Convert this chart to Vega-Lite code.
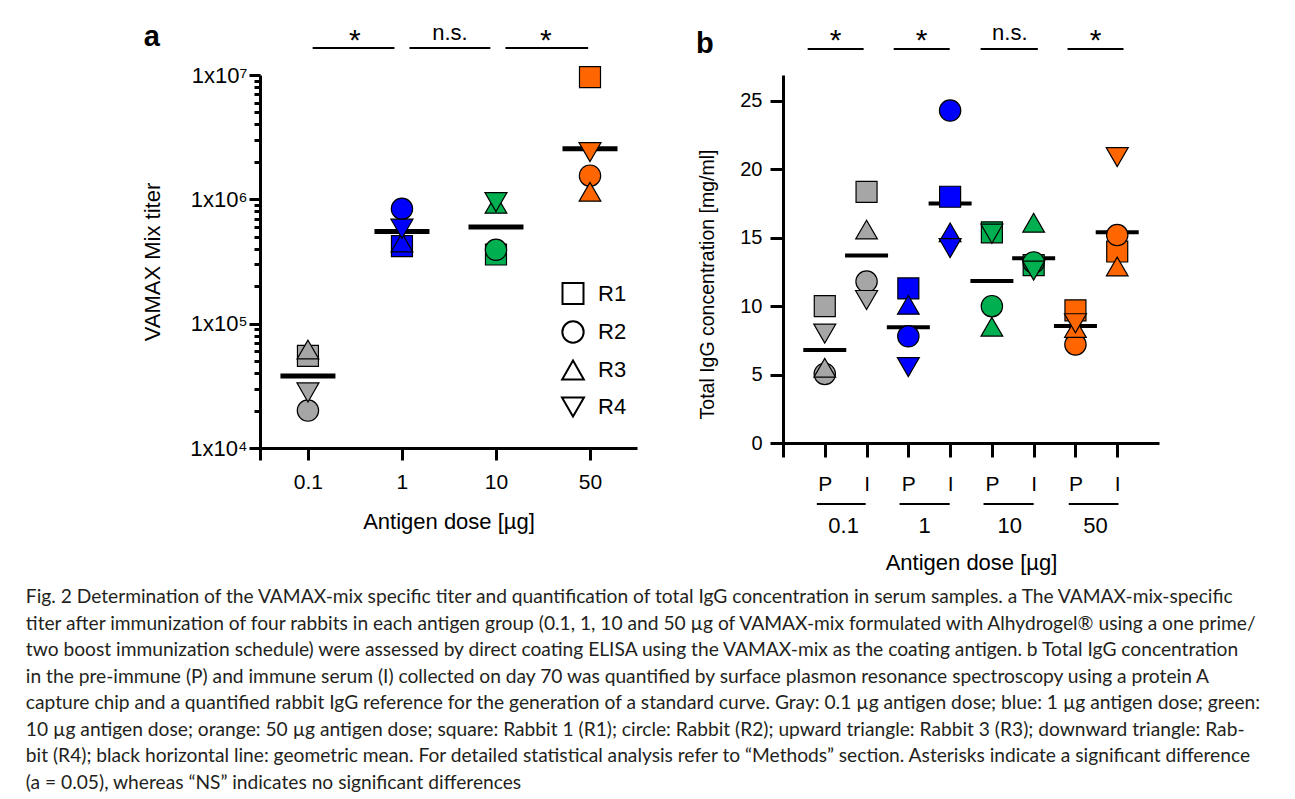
{
  "$schema": "https://vega.github.io/schema/vega-lite/v6.json",
  "background": "white",
  "padding": {"left": 25, "top": 21, "right": 5, "bottom": 5},
  "title": {
    "text": [
      "Fig. 2  Determination of the VAMAX-mix specific titer and quantification of total IgG concentration in serum samples. a The VAMAX-mix-specific",
      "titer after immunization of four rabbits in each antigen group (0.1, 1, 10 and 50 µg of VAMAX-mix formulated with Alhydrogel® using a one prime/",
      "two boost immunization schedule) were assessed by direct coating ELISA using the VAMAX-mix as the coating antigen. b Total IgG concentration",
      "in the pre-immune (P) and immune serum (I) collected on day 70 was quantified by surface plasmon resonance spectroscopy using a protein A",
      "capture chip and a quantified rabbit IgG reference for the generation of a standard curve. Gray: 0.1 µg antigen dose; blue: 1 µg antigen dose; green:",
      "10 µg antigen dose; orange: 50 µg antigen dose; square: Rabbit 1 (R1); circle: Rabbit (R2); upward triangle: Rabbit 3 (R3); downward triangle: Rab-",
      "bit (R4); black horizontal line: geometric mean. For detailed statistical analysis refer to “Methods” section. Asterisks indicate a significant difference",
      "(a = 0.05), whereas “NS” indicates no significant differences"
    ],
    "orient": "bottom",
    "anchor": "start",
    "frame": "bounds",
    "font": "Lato",
    "fontSize": 19.2,
    "fontWeight": "normal",
    "color": "#231f20",
    "lineHeight": 26.5,
    "dx": -116,
    "offset": 15,
    "baseline": "top"
  },
  "datasets": {
    "titer": [
      {"dose": "0.1", "idx": 0, "rabbit": "R1", "value": 55000},
      {"dose": "0.1", "idx": 0, "rabbit": "R2", "value": 20000},
      {"dose": "0.1", "idx": 0, "rabbit": "R3", "value": 62000},
      {"dose": "0.1", "idx": 0, "rabbit": "R4", "value": 28000},
      {"dose": "1", "idx": 1, "rabbit": "R1", "value": 420000},
      {"dose": "1", "idx": 1, "rabbit": "R2", "value": 840000},
      {"dose": "1", "idx": 1, "rabbit": "R3", "value": 450000},
      {"dose": "1", "idx": 1, "rabbit": "R4", "value": 580000},
      {"dose": "10", "idx": 2, "rabbit": "R1", "value": 360000},
      {"dose": "10", "idx": 2, "rabbit": "R2", "value": 393000},
      {"dose": "10", "idx": 2, "rabbit": "R3", "value": 920000},
      {"dose": "10", "idx": 2, "rabbit": "R4", "value": 950000},
      {"dose": "50", "idx": 3, "rabbit": "R1", "value": 9600000},
      {"dose": "50", "idx": 3, "rabbit": "R2", "value": 1550000},
      {"dose": "50", "idx": 3, "rabbit": "R3", "value": 1150000},
      {"dose": "50", "idx": 3, "rabbit": "R4", "value": 2400000}
    ],
    "titerMean": [
      {"dose": "0.1", "idx": 0, "value": 38000},
      {"dose": "1", "idx": 1, "value": 550000},
      {"dose": "10", "idx": 2, "value": 600000},
      {"dose": "50", "idx": 3, "value": 2550000}
    ],
    "sigBarsA": [
      {"idx": 0.05, "idx2": 0.92, "value": 16500000},
      {"idx": 1.08, "idx2": 1.94, "value": 16500000},
      {"idx": 2.1, "idx2": 2.98, "value": 16500000}
    ],
    "textA": [
      {"idx": 0.5, "value": 15880000, "label": "*"},
      {"idx": 1.51, "value": 19100000, "label": "n.s."},
      {"idx": 2.53, "value": 15880000, "label": "*"},
      {"idx": -1.66, "value": 17100000, "label": "a"}
    ],
    "igg": [
      {"dose": "0.1", "serum": "P", "idx": 0, "rabbit": "R1", "value": 10.0},
      {"dose": "0.1", "serum": "P", "idx": 0, "rabbit": "R2", "value": 5.05},
      {"dose": "0.1", "serum": "P", "idx": 0, "rabbit": "R3", "value": 5.5},
      {"dose": "0.1", "serum": "P", "idx": 0, "rabbit": "R4", "value": 8.0},
      {"dose": "0.1", "serum": "I", "idx": 1, "rabbit": "R1", "value": 18.35},
      {"dose": "0.1", "serum": "I", "idx": 1, "rabbit": "R2", "value": 11.8},
      {"dose": "0.1", "serum": "I", "idx": 1, "rabbit": "R3", "value": 15.6},
      {"dose": "0.1", "serum": "I", "idx": 1, "rabbit": "R4", "value": 10.45},
      {"dose": "1", "serum": "P", "idx": 2, "rabbit": "R1", "value": 11.3},
      {"dose": "1", "serum": "P", "idx": 2, "rabbit": "R2", "value": 7.8},
      {"dose": "1", "serum": "P", "idx": 2, "rabbit": "R3", "value": 10.1},
      {"dose": "1", "serum": "P", "idx": 2, "rabbit": "R4", "value": 5.55},
      {"dose": "1", "serum": "I", "idx": 3, "rabbit": "R1", "value": 18.0},
      {"dose": "1", "serum": "I", "idx": 3, "rabbit": "R2", "value": 24.3},
      {"dose": "1", "serum": "I", "idx": 3, "rabbit": "R3", "value": 15.4},
      {"dose": "1", "serum": "I", "idx": 3, "rabbit": "R4", "value": 14.25},
      {"dose": "10", "serum": "P", "idx": 4, "rabbit": "R1", "value": 15.4},
      {"dose": "10", "serum": "P", "idx": 4, "rabbit": "R2", "value": 10.0},
      {"dose": "10", "serum": "P", "idx": 4, "rabbit": "R3", "value": 8.5},
      {"dose": "10", "serum": "P", "idx": 4, "rabbit": "R4", "value": 15.3},
      {"dose": "10", "serum": "I", "idx": 5, "rabbit": "R1", "value": 13.0},
      {"dose": "10", "serum": "I", "idx": 5, "rabbit": "R2", "value": 13.2},
      {"dose": "10", "serum": "I", "idx": 5, "rabbit": "R3", "value": 16.1},
      {"dose": "10", "serum": "I", "idx": 5, "rabbit": "R4", "value": 12.6},
      {"dose": "50", "serum": "P", "idx": 6, "rabbit": "R1", "value": 9.7},
      {"dose": "50", "serum": "P", "idx": 6, "rabbit": "R2", "value": 7.2},
      {"dose": "50", "serum": "P", "idx": 6, "rabbit": "R3", "value": 8.4},
      {"dose": "50", "serum": "P", "idx": 6, "rabbit": "R4", "value": 8.75},
      {"dose": "50", "serum": "I", "idx": 7, "rabbit": "R1", "value": 14.0},
      {"dose": "50", "serum": "I", "idx": 7, "rabbit": "R2", "value": 15.2},
      {"dose": "50", "serum": "I", "idx": 7, "rabbit": "R3", "value": 12.9},
      {"dose": "50", "serum": "I", "idx": 7, "rabbit": "R4", "value": 20.9}
    ],
    "iggMean": [
      {"dose": "0.1", "serum": "P", "idx": 0, "value": 6.8},
      {"dose": "0.1", "serum": "I", "idx": 1, "value": 13.7},
      {"dose": "1", "serum": "P", "idx": 2, "value": 8.47},
      {"dose": "1", "serum": "I", "idx": 3, "value": 17.5},
      {"dose": "10", "serum": "P", "idx": 4, "value": 11.85},
      {"dose": "10", "serum": "I", "idx": 5, "value": 13.5},
      {"dose": "50", "serum": "P", "idx": 6, "value": 8.55},
      {"dose": "50", "serum": "I", "idx": 7, "value": 15.4}
    ],
    "barsB": [
      {"idx": -0.41, "idx2": 0.93, "value": 28.8},
      {"idx": 1.65, "idx2": 2.99, "value": 28.8},
      {"idx": 3.73, "idx2": 5.1, "value": 28.8},
      {"idx": 5.81, "idx2": 7.15, "value": 28.8},
      {"idx": -0.19, "idx2": 0.98, "value": -4.46},
      {"idx": 1.79, "idx2": 2.99, "value": -4.46},
      {"idx": 3.8, "idx2": 5.0, "value": -4.46},
      {"idx": 5.84, "idx2": 7.03, "value": -4.46}
    ],
    "textB": [
      {"idx": 0.26, "value": 28.73, "label": "*"},
      {"idx": 2.32, "value": 28.73, "label": "*"},
      {"idx": 4.43, "value": 29.46, "label": "n.s."},
      {"idx": 6.48, "value": 28.73, "label": "*"},
      {"idx": 0.45, "value": -6.58, "label": "0.1"},
      {"idx": 2.39, "value": -6.58, "label": "1"},
      {"idx": 4.43, "value": -6.58, "label": "10"},
      {"idx": 6.48, "value": -6.58, "label": "50"},
      {"idx": -2.87, "value": 28.5, "label": "b"}
    ]
  },
  "hconcat": [
    {
      "width": 377,
      "height": 373,
      "encoding": {
        "x": {
          "field": "idx",
          "type": "quantitative",
          "scale": {"domain": [-0.51, 3.5], "nice": false, "zero": false},
          "axis": {
            "values": [-0.51, 0, 1, 2, 3],
            "labelExpr": "datum.value == 0 ? '0.1' : datum.value == 1 ? '1' : datum.value == 2 ? '10' : datum.value == 3 ? '50' : ''",
            "title": "Antigen dose [µg]",
            "domainWidth": 3,
            "tickWidth": 3,
            "tickSize": 12,
            "labelFontSize": 21,
            "labelPadding": 11,
            "titleFontSize": 22,
            "titlePadding": 19
          }
        },
        "y": {
          "field": "value",
          "type": "quantitative",
          "scale": {"type": "log", "domain": [10000, 10000000], "nice": false},
          "axis": {
            "values": [10000, 20000, 30000, 40000, 50000, 60000, 70000, 80000, 90000, 100000, 200000, 300000, 400000, 500000, 600000, 700000, 800000, 900000, 1000000, 2000000, 3000000, 4000000, 5000000, 6000000, 7000000, 8000000, 9000000, 10000000],
            "labelExpr": "datum.value == 10000 ? '1x10⁴' : datum.value == 100000 ? '1x10⁵' : datum.value == 1000000 ? '1x10⁶' : datum.value == 10000000 ? '1x10⁷' : ''",
            "tickSize": {"condition": {"test": "indexof([10000, 100000, 1000000, 10000000], datum.value) >= 0", "value": 11}, "value": 6},
            "tickWidth": 3,
            "domainWidth": 3,
            "labelFontSize": 22,
            "labelPadding": 2,
            "title": "VAMAX Mix titer",
            "titleFontSize": 22,
            "titlePadding": 25
          }
        }
      },
      "layer": [
        {
          "data": {"name": "titerMean"},
          "mark": {"type": "tick", "orient": "horizontal", "color": "black", "size": 55, "thickness": 5, "opacity": 1}
        },
        {
          "data": {"name": "titer"},
          "mark": {"type": "point", "filled": true, "opacity": 1, "stroke": "black", "strokeWidth": 1.2},
          "encoding": {
            "color": {"field": "dose", "type": "nominal", "scale": {"domain": ["0.1", "1", "10", "50"], "range": ["#a6a6a6", "#0000ff", "#00b050", "#ff6600"]}, "legend": null},
            "shape": {"field": "rabbit", "type": "nominal", "scale": {"domain": ["R1", "R2", "R3", "R4"], "range": ["square", "circle", "triangle-up", "triangle-down"]},
              "legend": {"orient": "none", "legendX": 301, "legendY": 207, "direction": "vertical", "title": null, "padding": 0, "labelFont": "Liberation Sans", "labelFontSize": 22, "labelColor": "black", "symbolFillColor": "white", "symbolStrokeColor": "black", "symbolStrokeWidth": 2, "rowPadding": 9, "labelOffset": 13}},
            "size": {"field": "rabbit", "type": "nominal", "scale": {"domain": ["R1", "R2", "R3", "R4"], "range": [441, 484, 784, 784]},
              "legend": {"orient": "none", "legendX": 301, "legendY": 207, "direction": "vertical", "title": null, "padding": 0, "labelFont": "Liberation Sans", "labelFontSize": 22, "labelColor": "black", "symbolFillColor": "white", "symbolStrokeColor": "black", "symbolStrokeWidth": 2, "rowPadding": 9, "labelOffset": 13}}
          }
        },
        {
          "data": {"name": "sigBarsA"},
          "mark": {"type": "rule", "color": "black", "strokeWidth": 2},
          "encoding": {"x2": {"field": "idx2"}}
        },
        {
          "data": {"name": "textA"},
          "transform": [{"filter": "datum.label == '*'"}],
          "mark": {"type": "text", "fontSize": 30, "font": "Liberation Sans", "color": "black", "align": "center", "baseline": "alphabetic"},
          "encoding": {"text": {"field": "label"}}
        },
        {
          "data": {"name": "textA"},
          "transform": [{"filter": "datum.label == 'n.s.'"}],
          "mark": {"type": "text", "fontSize": 22, "font": "Liberation Sans", "color": "black", "align": "center", "baseline": "alphabetic"},
          "encoding": {"text": {"field": "label"}}
        },
        {
          "data": {"name": "textA"},
          "transform": [{"filter": "datum.label == 'a'"}],
          "mark": {"type": "text", "fontSize": 29, "fontWeight": "bold", "font": "Liberation Sans", "color": "black", "align": "center", "baseline": "alphabetic"},
          "encoding": {"text": {"field": "label"}}
        }
      ]
    },
    {
      "width": 376,
      "height": 368,
      "encoding": {
        "x": {
          "field": "idx",
          "type": "quantitative",
          "scale": {"domain": [-1, 8], "nice": false, "zero": false},
          "axis": {
            "values": [-1, 0, 1, 2, 3, 4, 5, 6, 7],
            "labelExpr": "datum.value < 0 ? '' : (datum.value % 2 == 0 ? 'P' : 'I')",
            "title": "Antigen dose [µg]",
            "domainWidth": 3,
            "tickWidth": 3,
            "tickSize": 14,
            "labelFontSize": 21,
            "labelPadding": 16,
            "titleFontSize": 22,
            "titlePadding": 58
          }
        },
        "y": {
          "field": "value",
          "type": "quantitative",
          "scale": {"domain": [0, 26.9], "nice": false, "zero": true},
          "axis": {
            "values": [0, 5, 10, 15, 20, 25],
            "tickSize": 13,
            "tickWidth": 3,
            "domainWidth": 3,
            "labelFontSize": 20,
            "labelPadding": 8,
            "title": "Total IgG concentration  [mg/ml]",
            "titleFontSize": 19.5,
            "titlePadding": 22,
            "titleY": 209
          }
        }
      },
      "layer": [
        {
          "data": {"name": "iggMean"},
          "mark": {"type": "tick", "orient": "horizontal", "color": "black", "size": 43, "thickness": 4, "opacity": 1}
        },
        {
          "data": {"name": "igg"},
          "mark": {"type": "point", "filled": true, "opacity": 1, "stroke": "black", "strokeWidth": 1.2},
          "encoding": {
            "color": {"field": "dose", "type": "nominal", "scale": {"domain": ["0.1", "1", "10", "50"], "range": ["#a6a6a6", "#0000ff", "#00b050", "#ff6600"]}, "legend": null},
            "shape": {"field": "rabbit", "type": "nominal", "scale": {"domain": ["R1", "R2", "R3", "R4"], "range": ["square", "circle", "triangle-up", "triangle-down"]}, "legend": null},
            "size": {"field": "rabbit", "type": "nominal", "scale": {"domain": ["R1", "R2", "R3", "R4"], "range": [441, 484, 784, 784]}, "legend": null}
          }
        },
        {
          "data": {"name": "barsB"},
          "mark": {"type": "rule", "color": "black", "strokeWidth": 2},
          "encoding": {"x2": {"field": "idx2"}}
        },
        {
          "data": {"name": "textB"},
          "transform": [{"filter": "datum.label == '*'"}],
          "mark": {"type": "text", "fontSize": 30, "font": "Liberation Sans", "color": "black", "align": "center", "baseline": "alphabetic"},
          "encoding": {"text": {"field": "label"}}
        },
        {
          "data": {"name": "textB"},
          "transform": [{"filter": "datum.label != '*' && datum.label != 'b'"}],
          "mark": {"type": "text", "fontSize": 22, "font": "Liberation Sans", "color": "black", "align": "center", "baseline": "alphabetic"},
          "encoding": {"text": {"field": "label"}}
        },
        {
          "data": {"name": "textB"},
          "transform": [{"filter": "datum.label == 'b'"}],
          "mark": {"type": "text", "fontSize": 29, "fontWeight": "bold", "font": "Liberation Sans", "color": "black", "align": "center", "baseline": "alphabetic"},
          "encoding": {"text": {"field": "label"}}
        }
      ]
    }
  ],
  "spacing": 146,
  "bounds": "flush",
  "config": {
    "view": {"stroke": null},
    "axis": {
      "labelFont": "Liberation Sans",
      "titleFont": "Liberation Sans",
      "labelColor": "black",
      "titleColor": "black",
      "domainColor": "black",
      "tickColor": "black",
      "titleFontWeight": "normal",
      "grid": false,
      "labelOverlap": false,
      "labelFlush": false,
      "labelBound": false
    }
  }
}
